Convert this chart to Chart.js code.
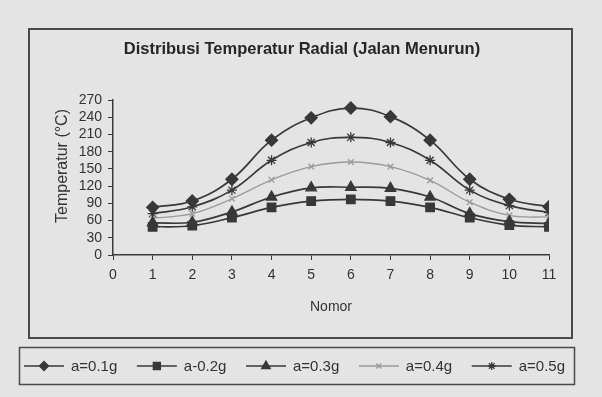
<!DOCTYPE html>
<html><head><meta charset="utf-8">
<script src="https://cdn.jsdelivr.net/npm/chart.js@4.4.1/dist/chart.umd.min.js"></script>
<style>html,body{margin:0;padding:0;background:#e4e4e4;}canvas{display:block}</style>
</head><body>
<canvas id="c" width="602" height="397"></canvas>
<script>
// ---- data ----
const nomor = [1, 2, 3, 4, 5, 6, 7, 8, 9, 10, 11];
const a01 = [83, 94, 132, 200, 239, 256, 241, 200, 132, 97, 84];
const a02 = [49, 51, 65, 83, 94, 97, 94, 83, 65, 52, 49];
const a03 = [56, 57, 75, 101, 117, 118, 116, 101, 72, 58, 55];
const a04 = [64, 72, 98, 131, 154, 162, 154, 130, 92, 69, 66];
const a05 = [72, 84, 113, 165, 196, 205, 196, 165, 113, 86, 74];
const seriesLabels = ['a=0.1g', 'a-0.2g', 'a=0.3g', 'a=0.4g', 'a=0.5g'];
const xTickValues = [0, 1, 2, 3, 4, 5, 6, 7, 8, 9, 10, 11];
const yTickValues = [0, 30, 60, 90, 120, 150, 180, 210, 240, 270];
const titleText = 'Distribusi Temperatur Radial (Jalan Menurun)';
const xTitle = 'Nomor';
const yTitle = 'Temperatur (°C)';

const FONT = "'Liberation Sans', Arial, sans-serif";
const NARROW = "'Liberation Sans Narrow', 'Arial Narrow', 'Liberation Sans', sans-serif";
const DARK = '#383838';
const GREY = '#9a9a9a';
const BG = '#e4e4e4';

const styles = [
  {pointStyle: 'rectRot', radius: 6, lr: 4.5, color: DARK, width: 1.7},
  {pointStyle: 'rect', radius: 6, lr: 5, color: DARK, width: 1.7},
  {pointStyle: 'triangle', radius: 6, lr: 5, color: DARK, width: 1.7},
  {pointStyle: 'crossRot', radius: 4, lr: 3.5, color: GREY, width: 1.3},
  {pointStyle: 'star', radius: 5, lr: 4, color: DARK, width: 1.7}
];
const seriesValues = [a01, a02, a03, a04, a05];

const datasets = seriesValues.map((vals, i) => ({
  label: seriesLabels[i],
  data: vals.map((v, j) => ({x: nomor[j], y: v})),
  borderColor: styles[i].color,
  backgroundColor: styles[i].color,
  borderWidth: styles[i].width,
  pointStyle: styles[i].pointStyle,
  pointRadius: styles[i].radius,
  pointBorderWidth: 1.3,
  pointBorderColor: styles[i].color,
  pointBackgroundColor: styles[i].color,
  tension: 0.4,
  fill: false
}));

function drawMarker(ctx, st, x, y) {
  if (Chart.helpers && Chart.helpers.drawPoint) {
    ctx.save();
    ctx.fillStyle = st.color; ctx.strokeStyle = st.color; ctx.lineWidth = 1.3;
    Chart.helpers.drawPoint(ctx, {pointStyle: st.pointStyle, radius: st.lr, rotation: 0, borderWidth: 1.3}, x, y);
    ctx.restore();
  }
}

const framePlugin = {
  id: 'frame',
  beforeDraw(chart) {
    const ctx = chart.ctx;
    ctx.save();
    ctx.fillStyle = BG;
    ctx.fillRect(0, 0, chart.width, chart.height);
    ctx.strokeStyle = '#4a4a4a';
    ctx.lineWidth = 2;
    ctx.strokeRect(29, 29, 543, 309);
    ctx.restore();
  },
  afterDraw(chart) {
    const ctx = chart.ctx;
    ctx.save();
    // y axis title
    ctx.fillStyle = '#333';
    ctx.font = '16px ' + FONT;
    ctx.textAlign = 'center';
    ctx.textBaseline = 'middle';
    ctx.translate(63, 166);
    ctx.rotate(-Math.PI / 2);
    ctx.fillText(yTitle, 0, 0);
    ctx.restore();

    ctx.save();
    ctx.strokeStyle = '#4a4a4a';
    ctx.lineWidth = 1.5;
    ctx.strokeRect(19.5, 347.5, 555, 37);
    ctx.font = '15px ' + FONT;
    ctx.textBaseline = 'middle';
    const lineLen = 40, gap = 7;
    const widths = seriesLabels.map(t => ctx.measureText(t).width);
    const startX = 24, endX = 565;
    const used = widths.reduce((a, b) => a + b, 0) + seriesLabels.length * (lineLen + gap);
    const between = (endX - startX - used) / (seriesLabels.length - 1);
    let x = startX;
    const y = 366;
    seriesLabels.forEach((t, i) => {
      const st = styles[i];
      ctx.strokeStyle = st.color;
      ctx.lineWidth = st.width;
      ctx.beginPath();
      ctx.moveTo(x, y); ctx.lineTo(x + lineLen, y);
      ctx.stroke();
      drawMarker(ctx, st, x + lineLen / 2, y);
      ctx.fillStyle = '#333';
      ctx.fillText(t, x + lineLen + gap, y + 1);
      x += lineLen + gap + widths[i] + between;
    });
    ctx.restore();
  }
};

new Chart(document.getElementById('c'), {
  type: 'line',
  data: {datasets},
  plugins: [framePlugin],
  options: {
    responsive: false,
    animation: false,
    devicePixelRatio: 1,
    layout: {padding: {left: 55, right: 53, top: 0, bottom: 81}},
    plugins: {
      legend: {display: false},
      tooltip: {enabled: false},
      title: {
        display: true,
        text: titleText,
        color: '#262626',
        font: {family: FONT, size: 16.5, weight: 'bold', lineHeight: 1.2},
        padding: {top: 40, bottom: 40.2}
      }
    },
    scales: {
      x: {
        type: 'linear',
        min: 0, max: 11,
        afterBuildTicks(scale) { scale.ticks = xTickValues.map(v => ({value: v})); },
        afterFit(scale) { scale.height = 61; },
        ticks: {color: '#333', font: {family: NARROW, size: 14}, padding: 7, maxRotation: 0, autoSkip: false},
        grid: {drawOnChartArea: false, color: '#3a3a3a', tickLength: 5, lineWidth: 1},
        border: {color: '#3a3a3a', width: 1.5},
        title: {display: true, text: xTitle, color: '#333', font: {family: FONT, size: 14, lineHeight: 1.2}, padding: {top: 0, bottom: 0}}
      },
      y: {
        type: 'linear',
        min: 0, max: 270,
        afterBuildTicks(scale) { scale.ticks = yTickValues.map(v => ({value: v})); },
        afterFit(scale) { scale.width = 58; },
        ticks: {color: '#333', font: {family: NARROW, size: 14}, padding: 6, autoSkip: false},
        grid: {drawOnChartArea: false, color: '#3a3a3a', tickLength: 5, lineWidth: 1},
        border: {color: '#3a3a3a', width: 1.5},
        title: {display: false}
      }
    }
  }
});
</script>
</body></html>
